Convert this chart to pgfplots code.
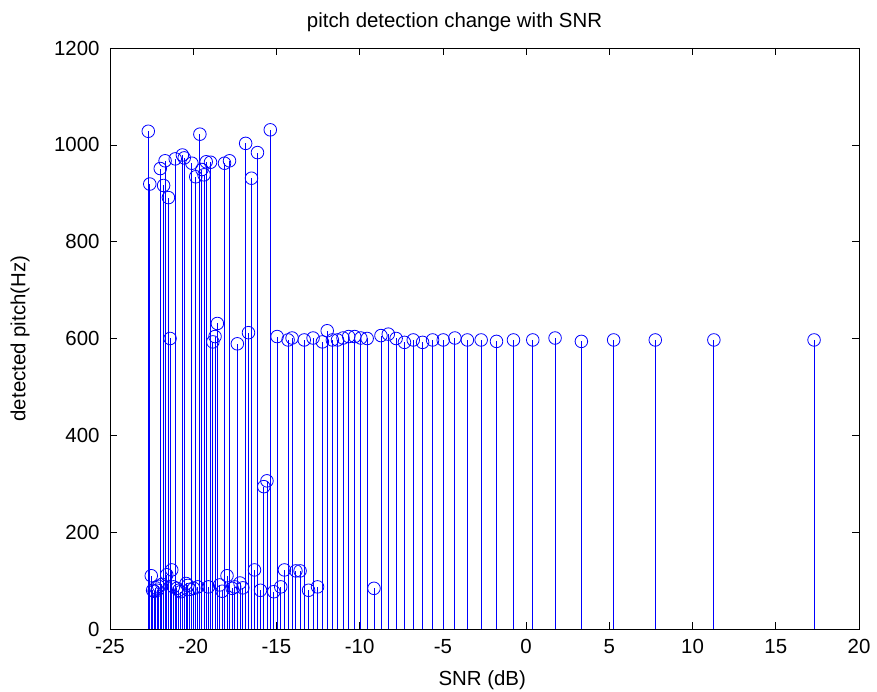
\documentclass[border=0pt]{standalone}
\usepackage{fontspec}
\setmainfont{Liberation Sans}
\usepackage{pgfplots}
\pgfplotsset{compat=1.18}
\begin{document}
\begin{tikzpicture}
\path[use as bounding box] (-110bp,-63bp) rectangle (767bp,629bp);
\begin{axis}[
  at={(0,0)}, anchor=south west,
  scale only axis, width=749bp, height=581bp,
  xmin=-25, xmax=20, ymin=0, ymax=1200,
  xtick={-25,-20,...,20}, ytick={0,200,...,1200},
  tick pos=both, xticklabel pos=left, yticklabel pos=left,
  tick align=inside, major tick length=7bp,
  /pgf/number format/assume math mode=true,
  /pgf/number format/1000 sep={},
  tick label style={font=\fontsize{20.5}{24}\selectfont},
  xticklabel style={yshift=-7bp},
  yticklabel style={xshift=-7bp},
  label style={font=\fontsize{20.5}{24}\selectfont},
  title style={font=\fontsize{20.5}{24}\selectfont, at={(axis description cs:0.46,1.034)}, anchor=center},
  xlabel style={at={(axis description cs:0.497,-0.088)}, anchor=center},
  ylabel style={at={(axis description cs:-0.120,0.5)}, anchor=center},
  title={pitch detection change with SNR},
  xlabel={SNR (dB)}, ylabel={detected pitch(Hz)},
  axis line style={black, line width=0.8bp},
  every tick/.style={black, line width=0.6bp},
  clip=false,
]
\addplot[ycomb, color=blue, line width=0.9bp, mark=o, mark size=6.3bp,
  mark options={draw=blue, fill=none, line width=0.8bp, solid}] table {
x y
17.30 597
11.28 597
7.76 597
5.26 597
3.32 594
1.74 601
0.40 597
-0.76 597
-1.78 594
-2.70 597
-3.53 597
-4.28 601
-4.98 597
-5.62 597
-6.22 592
-6.78 597
-7.31 592
-7.81 600
-8.28 609
-8.72 606
-9.14 84
-9.55 600
-9.93 601
-10.30 604
-10.66 604
-11.00 601
-11.33 597
-11.64 597
-11.95 616
-12.24 593
-12.53 87
-12.80 601
-13.07 80
-13.33 597
-13.58 120
-13.83 120
-14.06 601
-14.30 597
-14.52 122
-14.74 87
-14.96 604
-15.16 77
-15.37 1031
-15.57 306
-15.76 294
-15.96 80
-16.14 984
-16.32 122
-16.50 931
-16.68 612
-16.85 1003
-17.02 85
-17.19 95
-17.35 589
-17.51 87
-17.66 84
-17.82 967
-17.97 110
-18.12 962
-18.26 78
-18.41 91
-18.55 631
-18.69 604
-18.82 593
-18.96 964
-19.09 87
-19.22 965
-19.35 938
-19.48 949
-19.60 1022
-19.73 87
-19.85 934
-19.97 84
-20.08 962
-20.20 82
-20.32 90
-20.43 94
-20.54 973
-20.65 979
-20.76 77
-20.87 80
-20.98 84
-21.08 971
-21.19 87
-21.29 122
-21.39 600
-21.49 891
-21.59 112
-21.69 967
-21.78 916
-21.88 92
-21.98 951
-22.07 88
-22.16 80
-22.25 85
-22.35 78
-22.44 80
-22.52 110
-22.61 919
-22.70 1028
};
\end{axis}
\end{tikzpicture}
\end{document}
